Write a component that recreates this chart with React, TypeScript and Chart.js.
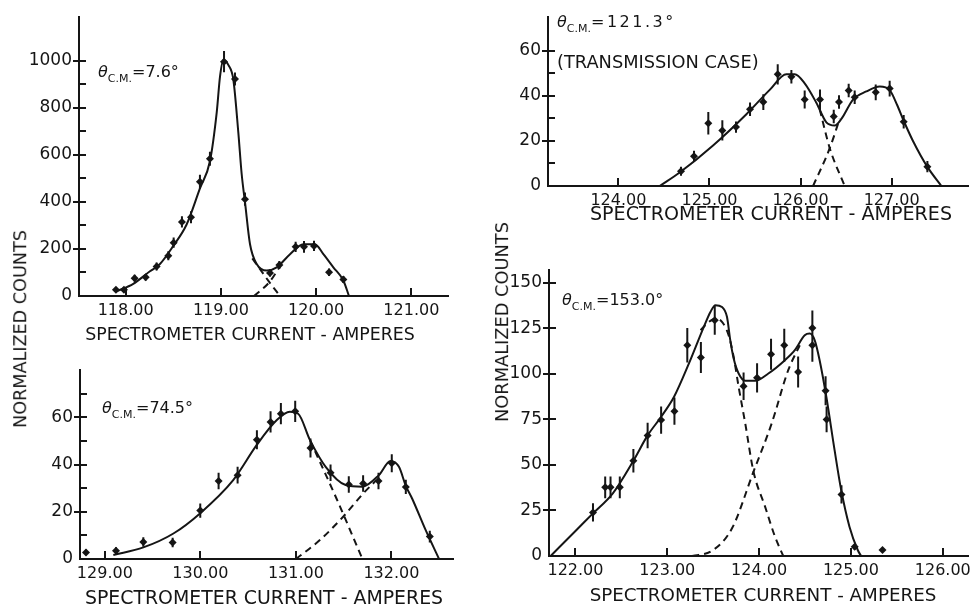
import React, { useEffect, useRef } from "react";
import { Chart, registerables } from "chart.js";

Chart.register(...registerables);

const INK = "#151515";
const FONT = '"DejaVu Sans", "Liberation Sans", sans-serif';

// ---------- Panel 1 : theta C.M. = 7.6 deg ----------
const p1X = [117.898, 117.982, 118.094, 118.21, 118.325, 118.448, 118.504, 118.591, 118.686, 118.78, 118.885, 119.033, 119.148, 119.253, 119.516, 119.614, 119.785, 119.873, 119.978, 120.136, 120.286];
const p1Y = [27, 27, 76, 80, 126, 171, 227, 315, 335, 486, 584, 997, 923, 412, 98, 132, 209, 209, 213, 101, 70];
const p1Err = [10, 10, 14, 14, 17, 19, 22, 24, 25, 30, 30, 45, 28, 28, 15, 17, 22, 25, 22, 16, 15];
const p1FitX = [117.905, 118.08, 118.255, 118.36, 118.5, 118.64, 118.78, 118.885, 118.956, 118.991, 119.026, 119.078, 119.131, 119.183, 119.218, 119.253, 119.306, 119.376, 119.481, 119.586, 119.726, 119.866, 119.988, 120.076, 120.181, 120.286, 120.345];
const p1FitY = [20, 52, 105, 136, 213, 304, 458, 573, 780, 934, 1004, 983, 920, 696, 520, 400, 220, 136, 108, 122, 178, 220, 220, 178, 122, 66, 0];
const p1DashAX = [119.33, 119.509, 119.621];
const p1DashAY = [160, 59, 0];
const p1DashBX = [119.348, 119.509, 119.62];
const p1DashBY = [0, 59, 125];
const p1XTicks = [118, 119, 120, 121];
const p1YTicks = [0, 100, 200, 300, 400, 500, 600, 700, 800, 900, 1000];
const p1YLabels = [0, 200, 400, 600, 800, 1000];

// ---------- Panel 2 : theta C.M. = 74.5 deg ----------
const p2X = [128.803, 129.117, 129.403, 129.71, 129.999, 130.191, 130.39, 130.592, 130.735, 130.843, 130.993, 131.153, 131.363, 131.554, 131.704, 131.865, 132.004, 132.151, 132.402];
const p2Y = [2.8, 3.5, 7.2, 7.0, 20.5, 33, 35.5, 50.5, 58, 61.5, 62.5, 47, 36.5, 31.5, 32, 33, 40.5, 30.5, 9.5];
const p2Err = [1.2, 1.5, 2, 2, 3, 3.5, 3.5, 4, 4.5, 4.5, 4.5, 4, 3.5, 3.5, 3.5, 3.5, 3.8, 3, 2.5];
const p2FitX = [129.089, 129.403, 129.718, 129.996, 130.344, 130.589, 130.798, 130.937, 131.024, 131.148, 131.312, 131.521, 131.695, 131.869, 131.991, 132.079, 132.151, 132.218, 132.358, 132.499];
const p2FitY = [1.7, 4.9, 10.8, 19.3, 33.4, 48.2, 58.7, 62.3, 61.5, 50.3, 39, 31.3, 30.6, 35.5, 41.5, 39, 31, 25.5, 12.3, 0];
const p2DashAX = [131.148, 131.425, 131.697];
const p2DashAY = [50.3, 25.6, 0];
const p2DashBX = [131.0, 131.251, 131.495, 131.704, 131.844];
const p2DashBY = [0, 8, 17.9, 27.7, 33.4];
const p2XTicks = [129, 130, 131, 132];
const p2YTicks = [0, 10, 20, 30, 40, 50, 60, 70];
const p2YLabels = [0, 20, 40, 60];

// ---------- Panel 3 : theta C.M. = 121.3 deg (transmission case) ----------
const p3X = [124.687, 124.83, 124.987, 125.141, 125.291, 125.445, 125.591, 125.749, 125.899, 126.045, 126.213, 126.364, 126.422, 126.528, 126.594, 126.825, 126.978, 127.132, 127.392];
const p3Y = [6.5, 13.2, 27.9, 24.7, 26.2, 34.1, 37.3, 49.6, 48.5, 38.4, 38.4, 30.9, 37.3, 42.4, 39.4, 41.6, 43.3, 28.6, 8.6];
const p3Err = [2, 2.5, 5, 4.5, 2.5, 3, 3.5, 4.5, 3, 4, 4.5, 3, 3, 3, 3, 3.5, 3.5, 3, 2.5];
const p3FitX = [124.453, 124.673, 125.039, 125.405, 125.661, 125.844, 125.935, 126.045, 126.173, 126.283, 126.375, 126.448, 126.576, 126.722, 126.869, 126.98, 127.06, 127.132, 127.234, 127.392, 127.546];
const p3FitY = [0, 6, 18, 31.9, 42.7, 49.6, 49.6, 45.6, 37, 28.3, 26.9, 29.8, 38.4, 42, 44.2, 42.5, 36, 29, 20, 8.5, 0];
const p3DashAX = [126.21, 126.32, 126.484];
const p3DashAY = [34.1, 16.8, 0];
const p3DashBX = [126.137, 126.32, 126.429];
const p3DashBY = [0, 16.8, 29.8];
const p3XTicks = [124, 125, 126, 127];
const p3YTicks = [0, 10, 20, 30, 40, 50, 60];
const p3YLabels = [0, 20, 40, 60];

// ---------- Panel 4 : theta C.M. = 153.0 deg ----------
const p4X = [122.191, 122.324, 122.382, 122.483, 122.631, 122.786, 122.933, 123.078, 123.218, 123.366, 123.517, 123.831, 123.978, 124.13, 124.274, 124.425, 124.58, 124.58, 124.724, 124.735, 124.897, 125.041, 125.344];
const p4Y = [23.9, 37.7, 37.7, 37.7, 52.3, 66.2, 74.6, 79.5, 115.7, 109, 129.4, 93.2, 97.8, 110.8, 115.7, 101, 125.2, 115.7, 90.7, 75, 33.8, 5.1, 3.3];
const p4Err = [5, 6, 6, 6, 6.5, 7, 7.5, 7.5, 9.5, 8.5, 8, 7.5, 8, 8.5, 9, 8.5, 9.5, 9, 8, 7, 5, 1.5, 1];
const p4FitX = [121.73, 122.011, 122.191, 122.407, 122.631, 122.786, 122.933, 123.074, 123.236, 123.398, 123.47, 123.524, 123.596, 123.65, 123.686, 123.723, 123.777, 123.849, 123.957, 124.101, 124.281, 124.389, 124.497, 124.551, 124.605, 124.659, 124.732, 124.822, 124.894, 124.984, 125.074, 125.11];
const p4FitY = [0, 14.3, 23.4, 34.4, 52.3, 66.2, 76.4, 87.4, 105.7, 125.8, 134, 137.7, 136.7, 131.3, 118.5, 108.4, 100.2, 96.2, 96.2, 100.2, 107.5, 113, 121.2, 122.1, 118.5, 107.5, 87.4, 58.1, 36.2, 16.1, 3.3, 0];
const p4DashAX = [123.362, 123.452, 123.524, 123.596, 123.668, 123.723, 123.777, 123.849, 123.939, 124.065, 124.173, 124.263];
const p4DashAY = [124, 128.5, 130.3, 128.5, 121.2, 109.3, 92.9, 72.8, 46.3, 27.1, 10.6, 0];
const p4DashBX = [123.272, 123.488, 123.705, 123.939, 124.137, 124.317, 124.443];
const p4DashBY = [0, 2.9, 15.2, 46.3, 72.8, 102, 115.7];
const p4XTicks = [122, 123, 124, 125, 126];
const p4YTicks = [0, 25, 50, 75, 100, 125, 150];
const p4YLabels = [0, 25, 50, 75, 100, 125, 150];

const thetaValues = ["7.6°", "74.5°", "121.3°", "153.0°"];
const xTitle = "SPECTROMETER CURRENT - AMPERES";
const yTitle = "NORMALIZED COUNTS";

type Curve = { xs: number[]; ys: number[]; dashed: boolean };
type Panel = {
  key: string;
  left: number; top: number; w: number; h: number;
  padTop: number; padRight: number; yW: number; xH: number;
  xMin: number; xMax: number; yMax: number;
  xTicks: number[]; yTicks: number[]; yLabels: number[];
  px: number[]; py: number[]; perr: number[];
  curves: Curve[];
};

const PANELS: Panel[] = [
  {
    key: "p1", left: 29, top: 0, w: 429, h: 326, padTop: 13, padRight: 10, yW: 50, xH: 30,
    xMin: 117.51, xMax: 121.385, yMax: 1186,
    xTicks: p1XTicks, yTicks: p1YTicks, yLabels: p1YLabels,
    px: p1X, py: p1Y, perr: p1Err,
    curves: [
      { xs: p1FitX, ys: p1FitY, dashed: false },
      { xs: p1DashAX, ys: p1DashAY, dashed: true },
      { xs: p1DashBX, ys: p1DashBY, dashed: true },
    ],
  },
  {
    key: "p2", left: 30, top: 350, w: 433, h: 239, padTop: 20, padRight: 10, yW: 50, xH: 30,
    xMin: 128.74, xMax: 132.645, yMax: 80,
    xTicks: p2XTicks, yTicks: p2YTicks, yLabels: p2YLabels,
    px: p2X, py: p2Y, perr: p2Err,
    curves: [
      { xs: p2FitX, ys: p2FitY, dashed: false },
      { xs: p2DashAX, ys: p2DashAY, dashed: true },
      { xs: p2DashBX, ys: p2DashBY, dashed: true },
    ],
  },
  {
    key: "p3", left: 498, top: 0, w: 478, h: 216, padTop: 12, padRight: 8, yW: 50, xH: 30,
    xMin: 123.227, xMax: 127.838, yMax: 75,
    xTicks: p3XTicks, yTicks: p3YTicks, yLabels: p3YLabels,
    px: p3X, py: p3Y, perr: p3Err,
    curves: [
      { xs: p3FitX, ys: p3FitY, dashed: false },
      { xs: p3DashAX, ys: p3DashAY, dashed: true },
      { xs: p3DashBX, ys: p3DashBY, dashed: true },
    ],
  },
  {
    key: "p4", left: 499, top: 250, w: 477, h: 336, padTop: 20, padRight: 4, yW: 50, xH: 30,
    xMin: 121.712, xMax: 126.281, yMax: 157,
    xTicks: p4XTicks, yTicks: p4YTicks, yLabels: p4YLabels,
    px: p4X, py: p4Y, perr: p4Err,
    curves: [
      { xs: p4FitX, ys: p4FitY, dashed: false },
      { xs: p4DashAX, ys: p4DashAY, dashed: true },
      { xs: p4DashBX, ys: p4DashBY, dashed: true },
    ],
  },
];

function marksPlugin(p: Panel) {
  return {
    id: "marks_" + p.key,
    afterDatasetsDraw(chart: any) {
      const { ctx, scales } = chart;
      const xs = scales.x;
      const ys = scales.y;
      ctx.save();
      ctx.strokeStyle = INK;
      ctx.lineWidth = 2;
      ctx.beginPath();
      p.px.forEach((x, i) => {
        const X = xs.getPixelForValue(x);
        ctx.moveTo(X, ys.getPixelForValue(p.py[i] - p.perr[i]));
        ctx.lineTo(X, ys.getPixelForValue(p.py[i] + p.perr[i]));
      });
      ctx.stroke();
      ctx.restore();
    },
    afterDraw(chart: any) {
      const { ctx, chartArea: a, scales } = chart;
      const xs = scales.x;
      const ys = scales.y;
      ctx.save();
      ctx.strokeStyle = INK;
      ctx.lineWidth = 2;
      ctx.beginPath();
      p.xTicks.forEach((v) => {
        const X = Math.round(xs.getPixelForValue(v));
        ctx.moveTo(X, a.bottom);
        ctx.lineTo(X, a.bottom - 8);
      });
      p.yTicks.forEach((v) => {
        if (v === 0) return;
        const Y = Math.round(ys.getPixelForValue(v));
        const major = p.yLabels.includes(v);
        ctx.moveTo(a.left - (major ? 6 : 0), Y);
        ctx.lineTo(a.left + 7, Y);
      });
      ctx.stroke();
      ctx.restore();
    },
  };
}

function buildChart(canvas: HTMLCanvasElement, p: Panel) {
  const datasets: any[] = p.curves.map((c) => ({
    data: c.xs.map((x, i) => ({ x, y: c.ys[i] })),
    borderColor: INK,
    borderWidth: 2,
    borderDash: c.dashed ? [7, 5] : [],
    pointRadius: 0,
    fill: false,
    showLine: true,
    cubicInterpolationMode: "monotone",
  }));
  datasets.push({
    data: p.px.map((x, i) => ({ x, y: p.py[i] })),
    showLine: false,
    pointStyle: "rectRot",
    pointRadius: 4,
    pointBackgroundColor: INK,
    pointBorderColor: INK,
    pointBorderWidth: 0,
    clip: false,
  });
  return new Chart(canvas, {
    type: "line",
    data: { datasets },
    options: {
      responsive: false,
      animation: false,
      devicePixelRatio: 1,
      events: [],
      layout: { padding: { top: p.padTop, right: p.padRight, left: 0, bottom: 0 } },
      plugins: { legend: { display: false }, tooltip: { enabled: false } },
      scales: {
        x: {
          type: "linear",
          min: p.xMin,
          max: p.xMax,
          afterBuildTicks: (s: any) => {
            s.ticks = p.xTicks.map((v) => ({ value: v }));
          },
          afterFit: (s: any) => {
            s.height = p.xH;
          },
          grid: { display: true, drawOnChartArea: false, drawTicks: false },
          border: { display: true, color: INK, width: 2 },
          ticks: {
            autoSkip: false,
            maxRotation: 0,
            padding: 5,
            color: INK,
            font: { family: FONT, size: 16 },
            callback: (v: any) => Number(v).toFixed(2),
          },
        },
        y: {
          type: "linear",
          min: 0,
          max: p.yMax,
          afterBuildTicks: (s: any) => {
            s.ticks = p.yTicks.map((v) => ({ value: v }));
          },
          afterFit: (s: any) => {
            s.width = p.yW;
          },
          grid: { display: true, drawOnChartArea: false, drawTicks: false },
          border: { display: true, color: INK, width: 2 },
          ticks: {
            autoSkip: false,
            padding: 7,
            color: INK,
            font: { family: FONT, size: 17 },
            callback: (v: any) => (p.yLabels.includes(Number(v)) ? String(v) : ""),
          },
        },
      },
    } as any,
    plugins: [marksPlugin(p)],
  });
}

function Theta({ left, cy, value, spacing }: { left: number; cy: number; value: string; spacing: number }) {
  return (
    <div
      style={{
        position: "absolute",
        left,
        top: cy - 8,
        fontSize: 16,
        lineHeight: "16px",
        whiteSpace: "nowrap",
      }}
    >
      <span style={{ fontStyle: "italic" }}>θ</span>
      <span style={{ fontSize: 11, position: "relative", top: 5 }}>C.M.</span>
      <span style={{ letterSpacing: spacing }}>={value}</span>
    </div>
  );
}

function CenterText({ cx, cy, size, text, vertical }: { cx: number; cy: number; size: number; text: string; vertical?: boolean }) {
  return (
    <div
      style={{
        position: "absolute",
        left: cx,
        top: cy,
        fontSize: size,
        lineHeight: 1,
        whiteSpace: "nowrap",
        transform: vertical ? "translate(-50%, -50%) rotate(-90deg)" : "translate(-50%, -50%)",
      }}
    >
      {text}
    </div>
  );
}

export default function App() {
  const refs = useRef<(HTMLCanvasElement | null)[]>([]);
  useEffect(() => {
    const charts = PANELS.map((p, i) => buildChart(refs.current[i] as HTMLCanvasElement, p));
    return () => charts.forEach((c) => c.destroy());
  }, []);
  return (
    <div
      style={{
        position: "absolute",
        left: 0,
        top: 0,
        width: 976,
        height: 608,
        background: "#ffffff",
        color: INK,
        fontFamily: FONT,
        overflow: "hidden",
      }}
    >
      {PANELS.map((p, i) => (
        <canvas
          key={p.key}
          ref={(el) => {
            refs.current[i] = el;
          }}
          width={p.w}
          height={p.h}
          style={{ position: "absolute", left: p.left, top: p.top, width: p.w, height: p.h }}
        />
      ))}
      <Theta left={98} cy={72} value={thetaValues[0]} spacing={0} />
      <Theta left={102} cy={408} value={thetaValues[1]} spacing={0} />
      <Theta left={557} cy={22} value={thetaValues[2]} spacing={2.5} />
      <Theta left={562} cy={300} value={thetaValues[3]} spacing={0} />
      <div style={{ position: "absolute", left: 557, top: 53, fontSize: 17.8, lineHeight: "17px", whiteSpace: "nowrap" }}>
        (TRANSMISSION CASE)
      </div>
      <CenterText cx={250} cy={335} size={17.4} text={xTitle} />
      <CenterText cx={264} cy={597} size={18.9} text={xTitle} />
      <CenterText cx={771} cy={214} size={19.1} text={xTitle} />
      <CenterText cx={763} cy={595} size={18.3} text={xTitle} />
      <CenterText cx={21} cy={329} size={17.6} text={yTitle} vertical />
      <CenterText cx={502} cy={322} size={17.8} text={yTitle} vertical />
    </div>
  );
}
